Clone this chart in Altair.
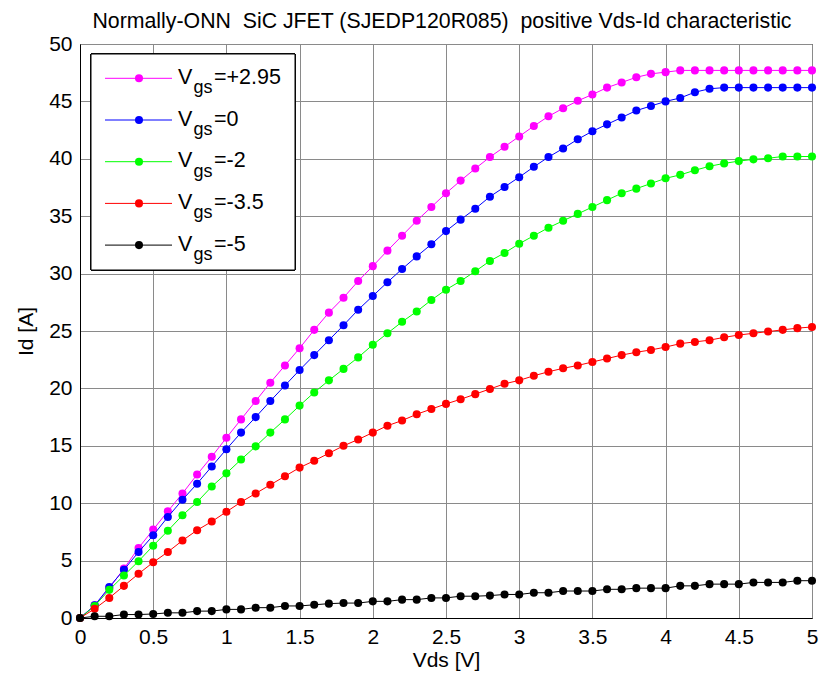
import altair as alt
import pandas as pd

# ---------------- data ----------------
vds = [0.0, 0.1, 0.2, 0.3, 0.4, 0.5, 0.6, 0.7, 0.8, 0.9,
       1.0, 1.1, 1.2, 1.3, 1.4, 1.5, 1.6, 1.7, 1.8, 1.9,
       2.0, 2.1, 2.2, 2.3, 2.4, 2.5, 2.6, 2.7, 2.8, 2.9,
       3.0, 3.1, 3.2, 3.3, 3.4, 3.5, 3.6, 3.7, 3.8, 3.9,
       4.0, 4.1, 4.2, 4.3, 4.4, 4.5, 4.6, 4.7, 4.8, 4.9, 5.0]

id_vgs_p295 = [0.0, 1.1, 2.6, 4.3, 6.1, 7.7, 9.3, 10.85, 12.5, 14.05,
               15.7, 17.3, 18.9, 20.5, 22.0, 23.5, 25.1, 26.6, 27.9, 29.35,
               30.65, 32.0, 33.3, 34.6, 35.8, 37.0, 38.1, 39.15, 40.15, 41.05,
               41.95, 42.85, 43.7, 44.4, 45.05, 45.6, 46.2, 46.65, 47.1, 47.4,
               47.55, 47.7, 47.7, 47.7, 47.7, 47.7, 47.7, 47.7, 47.7, 47.7, 47.7]

id_vgs_0 = [0.0, 1.1, 2.7, 4.2, 5.75, 7.2, 8.8, 10.3, 11.7, 13.2,
            14.7, 16.15, 17.5, 18.9, 20.25, 21.6, 22.9, 24.2, 25.5, 26.85,
            28.05, 29.25, 30.4, 31.5, 32.55, 33.7, 34.7, 35.65, 36.7, 37.55,
            38.4, 39.3, 40.15, 40.9, 41.7, 42.4, 43.0, 43.6, 44.2, 44.6,
            45.0, 45.3, 45.8, 46.1, 46.2, 46.2, 46.2, 46.2, 46.2, 46.2, 46.2]

id_vgs_m2 = [0.0, 1.05, 2.45, 3.7, 4.95, 6.3, 7.6, 8.95, 10.1, 11.45,
             12.6, 13.8, 14.95, 16.15, 17.3, 18.5, 19.65, 20.7, 21.7, 22.7,
             23.8, 24.8, 25.8, 26.7, 27.7, 28.6, 29.35, 30.2, 31.1, 31.8,
             32.6, 33.3, 34.0, 34.6, 35.2, 35.8, 36.4, 37.0, 37.4, 37.85,
             38.3, 38.6, 39.0, 39.35, 39.6, 39.8, 39.95, 40.05, 40.2, 40.2, 40.2]

id_vgs_m35 = [0.0, 0.8, 1.75, 2.8, 3.85, 4.85, 5.75, 6.75, 7.65, 8.4,
              9.25, 10.1, 10.85, 11.6, 12.35, 13.1, 13.7, 14.35, 15.0, 15.55,
              16.15, 16.75, 17.2, 17.75, 18.2, 18.65, 19.05, 19.5, 19.95, 20.4,
              20.7, 21.1, 21.45, 21.75, 22.0, 22.3, 22.6, 22.9, 23.15, 23.35,
              23.6, 23.9, 24.05, 24.2, 24.45, 24.65, 24.8, 24.95, 25.1, 25.25, 25.35]

id_vgs_m5 = [0.0, 0.15, 0.15, 0.3, 0.3, 0.35, 0.45, 0.45, 0.6, 0.6,
             0.75, 0.75, 0.9, 0.9, 1.05, 1.05, 1.15, 1.25, 1.3, 1.3,
             1.45, 1.45, 1.6, 1.6, 1.75, 1.75, 1.9, 1.9, 1.95, 2.05,
             2.05, 2.2, 2.2, 2.35, 2.35, 2.35, 2.5, 2.5, 2.6, 2.6,
             2.6, 2.8, 2.8, 2.95, 2.95, 2.95, 3.1, 3.1, 3.1, 3.25, 3.25]

series_names = ["Vgs=+2.95", "Vgs=0", "Vgs=-2", "Vgs=-3.5", "Vgs=-5"]
legend_values = ["=+2.95", "=0", "=-2", "=-3.5", "=-5"]
series_values = [id_vgs_p295, id_vgs_0, id_vgs_m2, id_vgs_m35, id_vgs_m5]
series_colors = ["#ff00ff", "#0000ff", "#00ff00", "#ff0000", "#000000"]

x_ticks = [0, 0.5, 1, 1.5, 2, 2.5, 3, 3.5, 4, 4.5, 5]
y_ticks = [0, 5, 10, 15, 20, 25, 30, 35, 40, 45, 50]

# non-breaking spaces keep the double gaps of the original title
title_text = "Normally-ONN\u00a0\u00a0SiC JFET (SJEDP120R085)\u00a0\u00a0positive Vds-Id characteristic"

# ---------------- chart ----------------
FONT = "Liberation Sans"
W, H = 732, 574
MS = 65

rows = []
for name, vals in zip(series_names, series_values):
    for v, i in zip(vds, vals):
        rows.append({"series": name, "vds": v, "id": i})
df = pd.DataFrame(rows)

x_enc = alt.X("vds:Q", scale=alt.Scale(domain=[0, 5], nice=False, zero=False),
              axis=alt.Axis(values=x_ticks, format="~g", title="Vds [V]",
                            labelFlush=False, labelPadding=8, titlePadding=2))
y_enc = alt.Y("id:Q", scale=alt.Scale(domain=[0, 50], nice=False),
              axis=alt.Axis(values=y_ticks, format="~g", title="Id [A]",
                            labelFlush=False, labelPadding=8, titlePadding=12))

layers = []
for name, col in zip(series_names, series_colors):
    base = alt.Chart(df).transform_filter(alt.datum.series == name).encode(x=x_enc, y=y_enc)
    layers.append(base.mark_line(color=col, strokeWidth=1))
    layers.append(base.mark_point(filled=True, color=col, size=MS, opacity=1))

# custom legend (MATLAB-style box with subscripts)
leg_df = pd.DataFrame({"v": legend_values})
layers.append(
    alt.Chart(leg_df).mark_rect(fill="white", stroke="black", strokeWidth=1).encode(
        x=alt.value(11), x2=alt.value(215), y=alt.value(10), y2=alt.value(226))
)
row0, row_step = 34.3, 41.7
for k, (val, col) in enumerate(zip(legend_values, series_colors)):
    yy = row0 + k * row_step
    one = alt.Chart(leg_df).transform_filter(alt.datum.v == val)
    layers.append(one.mark_rule(color=col, strokeWidth=1).encode(
        x=alt.value(25), x2=alt.value(92), y=alt.value(yy)))
    layers.append(one.mark_point(filled=True, color=col, size=MS, opacity=1).encode(
        x=alt.value(59), y=alt.value(yy)))
    layers.append(one.mark_text(text="V", font=FONT, fontSize=21.5, align="left",
                                baseline="alphabetic", color="black").encode(
        x=alt.value(98), y=alt.value(yy + 5.5)))
    layers.append(one.mark_text(text="gs", font=FONT, fontSize=18, align="left",
                                baseline="alphabetic", color="black").encode(
        x=alt.value(113.5), y=alt.value(yy + 15)))
    layers.append(one.mark_text(font=FONT, fontSize=21.5, align="left",
                                baseline="alphabetic", color="black").encode(
        text="v:N", x=alt.value(134), y=alt.value(yy + 5.5)))

chart = alt.layer(*layers).properties(
    width=W, height=H,
    background="white",
    title=alt.TitleParams(text=title_text, font=FONT, fontSize=21.3, fontWeight="normal",
                          color="black", anchor="middle", baseline="alphabetic",
                          offset=7, dy=23, dx=-4),
    autosize=alt.AutoSizeParams(type="none"),
    padding={"left": 80, "top": 44, "right": 10, "bottom": 65},
).configure_view(
    stroke="black", strokeWidth=1
).configure_axis(
    domain=True, domainColor="black", domainWidth=1,
    ticks=False, tickSize=0,
    grid=True, gridColor="#8a8a8a", gridWidth=1,
    labelFont=FONT, labelFontSize=21, labelColor="black",
    titleFont=FONT, titleFontSize=21, titleFontWeight="normal", titleColor="black",
)

chart.save("out.html", embed_options={"renderer": "svg", "actions": False})
